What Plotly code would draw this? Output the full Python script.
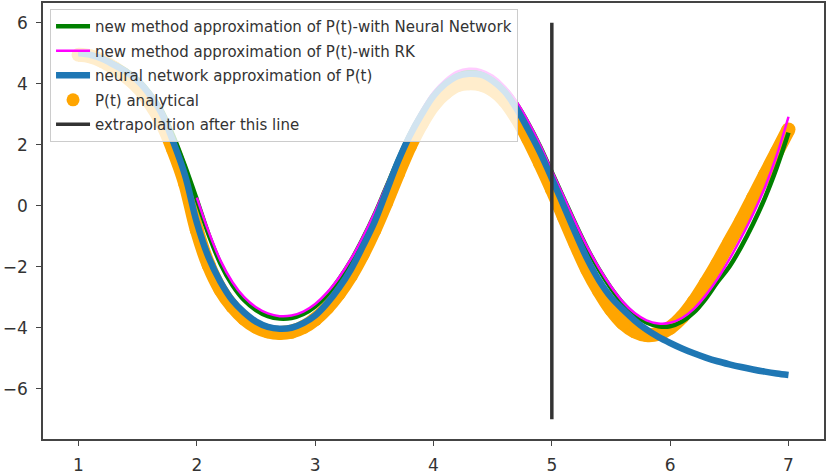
import plotly.graph_objects as go

# time grid shared by the sampled curves
t = [round(1.0 + 0.1 * i, 1) for i in range(61)]

# analytical P(t)
p_analytical = [
    4.95, 4.90, 4.75, 4.52, 4.25, 3.90, 3.40, 2.75, 1.85, 0.75,
    -0.80, -1.95, -2.75, -3.30, -3.70, -3.97, -4.12, -4.17, -4.13, -3.98,
    -3.72, -3.35, -2.88, -2.30, -1.60, -0.80, 0.10, 1.05, 1.95, 2.70,
    3.30, 3.70, 3.95, 4.02, 3.98, 3.80, 3.45, 2.90, 2.20, 1.40,
    0.55, -0.35, -1.25, -2.10, -2.80, -3.40, -3.85, -4.12, -4.24, -4.20,
    -4.00, -3.65, -3.15, -2.55, -1.90, -1.20, -0.50, 0.25, 1.00, 1.75,
    2.50,
]

# plain neural network approximation (trained up to t = 5)
p_nn = [
    5.00, 4.95, 4.82, 4.62, 4.40, 4.10, 3.65, 3.05, 2.10, 1.00,
    -0.55, -1.70, -2.50, -3.10, -3.50, -3.80, -3.97, -4.03, -4.00, -3.85,
    -3.60, -3.20, -2.70, -2.10, -1.35, -0.55, 0.45, 1.45, 2.30, 3.00,
    3.60, 4.00, 4.25, 4.33, 4.30, 4.10, 3.75, 3.20, 2.50, 1.75,
    0.90, 0.00, -0.90, -1.75, -2.45, -3.00, -3.40, -3.76, -4.06, -4.30,
    -4.50, -4.68, -4.84, -4.98, -5.10, -5.20, -5.29, -5.37, -5.44, -5.50,
    -5.55,
]

# new method, neural network variant
p_new_nn = [
    5.00, 4.97, 4.85, 4.66, 4.45, 4.15, 3.72, 3.15, 2.30, 1.30,
    0.20, -0.95, -1.90, -2.60, -3.10, -3.42, -3.62, -3.70, -3.68, -3.55,
    -3.30, -2.92, -2.42, -1.82, -1.10, -0.30, 0.60, 1.50, 2.35, 3.05,
    3.65, 4.05, 4.30, 4.40, 4.36, 4.18, 3.85, 3.35, 2.70, 1.95,
    1.10, 0.25, -0.60, -1.40, -2.10, -2.70, -3.20, -3.58, -3.83, -3.95,
    -3.95, -3.80, -3.50, -3.05, -2.50, -2.00, -1.35, -0.60, 0.25, 1.25,
    2.40,
]

# new method, Runge-Kutta variant (starts at t = 2)
t_rk = t[10:]
p_new_rk = [
    0.27, -0.85, -1.80, -2.50, -3.00, -3.33, -3.53, -3.62, -3.60, -3.47,
    -3.22, -2.85, -2.36, -1.76, -1.05, -0.25, 0.65, 1.55, 2.40, 3.12,
    3.72, 4.13, 4.40, 4.49, 4.45, 4.26, 3.92, 3.42, 2.76, 2.00,
    1.15, 0.30, -0.55, -1.35, -2.05, -2.65, -3.15, -3.52, -3.76, -3.86,
    -3.84, -3.68, -3.38, -2.94, -2.40, -1.76, -1.05, -0.28, 0.60, 1.65,
    2.92,
]

# end of the training window
t_split = [5, 5]
y_split = [-7, 6]

x_ticks = [1, 2, 3, 4, 5, 6, 7]
y_ticks = [-6, -4, -2, 0, 2, 4, 6]
y_ticktext = ["\u22126", "\u22124", "\u22122", "0", "2", "4", "6"]

ORANGE = "#FFA500"
GREEN = "#008000"
MAGENTA = "#FF00FF"
BLUE = "#1f77b4"
DARK = "#333333"

fig = go.Figure()

# analytical curve drawn as a wide band of overlapping dots
fig.add_trace(go.Scatter(
    x=t, y=p_analytical, mode="lines+markers", showlegend=False,
    line=dict(color=ORANGE, width=14, shape="spline"),
    marker=dict(color=ORANGE, size=14),
    hoverinfo="skip",
))
fig.add_trace(go.Scatter(
    x=t, y=p_new_nn, mode="lines",
    name="new method approximation of P(t)-with Neural Network",
    line=dict(color=GREEN, width=4.5, shape="spline"),
    legendgroup="g1", legendrank=1,
))
fig.add_trace(go.Scatter(
    x=t_rk, y=p_new_rk, mode="lines",
    name="new method approximation of P(t)-with RK",
    line=dict(color=MAGENTA, width=2.5, shape="spline"),
    legendgroup="g2", legendrank=2,
))
fig.add_trace(go.Scatter(
    x=t, y=p_nn, mode="lines",
    name="neural network approximation of P(t)",
    line=dict(color=BLUE, width=6.5, shape="spline"),
    legendgroup="g3", legendrank=3,
))
# legend entry for the analytical dots
fig.add_trace(go.Scatter(
    x=[None], y=[None], mode="markers", name="P(t) analytical",
    marker=dict(color=ORANGE, size=13),
    legendgroup="g4", legendrank=4,
))
fig.add_trace(go.Scatter(
    x=t_split, y=y_split, mode="lines",
    name="extrapolation after this line",
    line=dict(color=DARK, width=3.5),
    legendgroup="g5", legendrank=5,
))

axis_common = dict(
    showgrid=False, zeroline=False, showline=True, mirror=True,
    linecolor="#444444", linewidth=1.5,
    ticks="outside", ticklen=5, tickwidth=1.3, tickcolor="#444444",
    tickfont=dict(family="DejaVu Sans", size=17, color=DARK),
)

fig.update_layout(
    width=827, height=476,
    margin=dict(l=43, r=1, t=2, b=36),
    paper_bgcolor="white", plot_bgcolor="white",
    showlegend=True,
    legend=dict(
        x=0.009, y=0.986, xanchor="left", yanchor="top",
        bgcolor="rgba(255,255,255,0.8)", bordercolor="#cccccc", borderwidth=1,
        font=dict(family="DejaVu Sans", size=15, color=DARK),
        traceorder="grouped", tracegroupgap=2, itemwidth=34,
    ),
    xaxis=dict(range=[0.7, 7.3], tickvals=x_ticks, ticklabelstandoff=5, **axis_common),
    yaxis=dict(range=[-7.65, 6.65], tickvals=y_ticks, ticktext=y_ticktext,
               ticklabelstandoff=5, **axis_common),
)

fig.write_html("out.html")
